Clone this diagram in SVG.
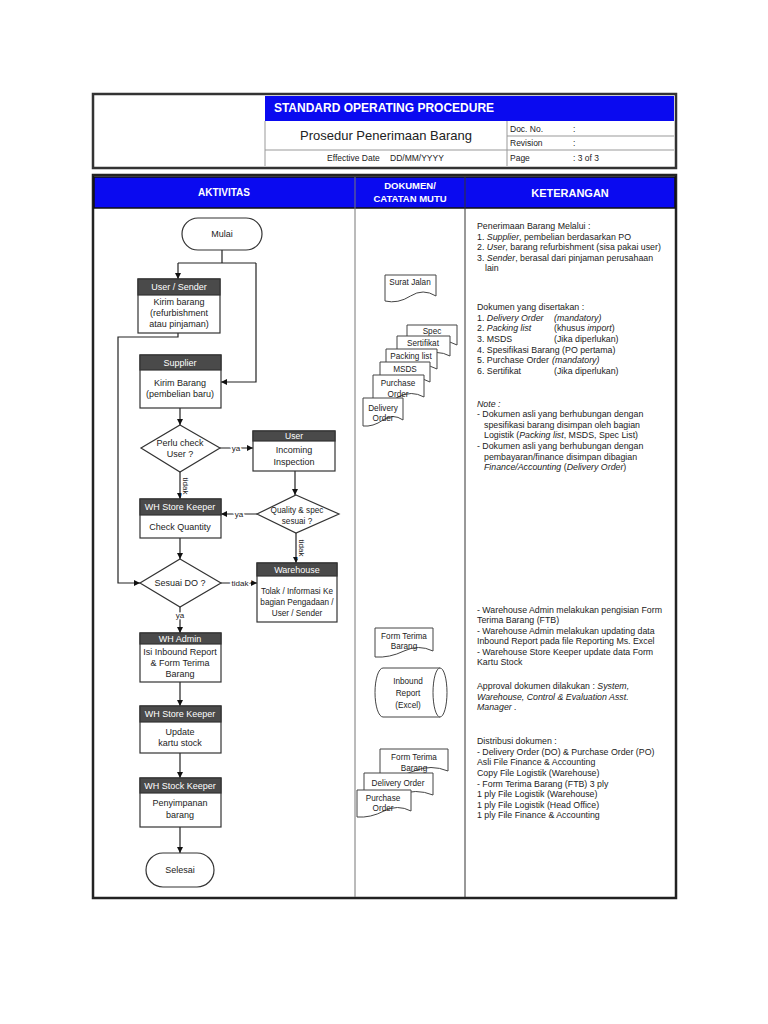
<svg xmlns="http://www.w3.org/2000/svg" width="768" height="1024" viewBox="0 0 768 1024">
<style>
text{font-family:"Liberation Sans",Arial,sans-serif;fill:#222}
.t{font-size:9px;text-anchor:middle}
.s{font-size:8.2px;text-anchor:middle}
.h{font-size:9px;text-anchor:middle;fill:#fff}
.r{font-size:8.8px}
.i{font-style:italic}
.lbl{font-size:8px;text-anchor:middle;stroke:#fff;stroke-width:3px;paint-order:stroke;fill:#222}
.box{fill:#fff;stroke:#333;stroke-width:1.2}
.hd{fill:#4a4a4a;stroke:#333;stroke-width:1.2}
.doc{fill:#fff;stroke:#444;stroke-width:1}
.ln{fill:none;stroke:#222;stroke-width:1.2}
</style>
<defs>
<marker id="ar" viewBox="0 0 10 10" refX="10" refY="5" markerWidth="6" markerHeight="6" orient="auto" markerUnits="userSpaceOnUse">
<path d="M0,0 L10,5 L0,10 Z" fill="#111"/>
</marker>
</defs>
<rect width="768" height="1024" fill="#fff"/>

<!-- header block -->
<g id="header">
<rect x="93" y="94" width="583" height="74" fill="#fff" stroke="#333" stroke-width="2.5"/>
<rect x="265" y="96" width="242" height="25" fill="#0a0af0"/>
<rect x="507" y="96" width="167" height="25" fill="#0a0af0"/>
<line x1="265" y1="121" x2="265" y2="166" stroke="#999" stroke-width="1"/>
<line x1="507" y1="121" x2="507" y2="166" stroke="#999" stroke-width="1"/>
<line x1="507" y1="136" x2="674" y2="136" stroke="#999" stroke-width="1"/>
<line x1="265" y1="150" x2="674" y2="150" stroke="#999" stroke-width="1"/>
<text x="384" y="112" font-size="12" font-weight="bold" text-anchor="middle" style="fill:#fff">STANDARD OPERATING PROCEDURE</text>
<text x="386" y="140" font-size="13" text-anchor="middle">Prosedur Penerimaan Barang</text>
<text x="327" y="161" font-size="8.5">Effective Date</text>
<text x="390" y="161" font-size="8.5">DD/MM/YYYY</text>
<text x="510" y="132" font-size="8.5">Doc. No.</text>
<text x="573" y="132" font-size="8.5">:</text>
<text x="510" y="146" font-size="8.5">Revision</text>
<text x="573" y="146" font-size="8.5">:</text>
<text x="510" y="161" font-size="8.5">Page</text>
<text x="573" y="161" font-size="8.5">: 3 of 3</text>
</g>

<!-- main frame -->
<g id="frame">
<rect x="93" y="175" width="583" height="723" fill="#fff" stroke="#222" stroke-width="2.5"/>
<rect x="94" y="177" width="581" height="31" fill="#0a0af0" stroke="#111" stroke-width="1.5"/>
<line x1="355" y1="177" x2="355" y2="897" stroke="#777" stroke-width="1"/>
<line x1="465" y1="177" x2="465" y2="897" stroke="#333" stroke-width="1"/>
<text x="224" y="196" font-size="10" font-weight="bold" text-anchor="middle" style="fill:#fff">AKTIVITAS</text>
<text x="410" y="189" font-size="9.5" font-weight="bold" text-anchor="middle" style="fill:#fff">DOKUMEN/</text>
<text x="410" y="202" font-size="9.5" font-weight="bold" text-anchor="middle" style="fill:#fff">CATATAN MUTU</text>
<text x="570" y="197" font-size="11" font-weight="bold" text-anchor="middle" style="fill:#fff">KETERANGAN</text>
</g>

<!-- connectors -->
<g id="connectors">
<path class="ln" d="M222,250 V263"/>
<path class="ln" d="M178,263 H256"/>
<path class="ln" d="M178,263 V279" marker-end="url(#ar)"/>
<path class="ln" d="M256,263 V382 H221" marker-end="url(#ar)"/>
<path class="ln" d="M178,333 V337 H118 V583 H140" marker-end="url(#ar)"/>
<path class="ln" d="M180,408 V425" marker-end="url(#ar)"/>
<path class="ln" d="M220,448 H253" marker-end="url(#ar)"/>
<path class="ln" d="M180,472 V499" marker-end="url(#ar)"/>
<path class="ln" d="M295,471 V495" marker-end="url(#ar)"/>
<path class="ln" d="M257,514 H221" marker-end="url(#ar)"/>
<path class="ln" d="M296,533 V563" marker-end="url(#ar)"/>
<path class="ln" d="M180,538 V559" marker-end="url(#ar)"/>
<path class="ln" d="M221,583 H257" marker-end="url(#ar)"/>
<path class="ln" d="M180,607 V633" marker-end="url(#ar)"/>
<path class="ln" d="M180,682 V706" marker-end="url(#ar)"/>
<path class="ln" d="M180,753 V778" marker-end="url(#ar)"/>
<path class="ln" d="M180,827 V853" marker-end="url(#ar)"/>
<text class="lbl" x="236" y="451">ya</text>
<text class="lbl" x="239" y="517">ya</text>
<text class="lbl" x="240" y="586">tidak</text>
<text class="lbl" x="180" y="618">ya</text>
<text class="lbl" transform="translate(183,486) rotate(90)">tidak</text>
<text class="lbl" transform="translate(299,548) rotate(90)">tidak</text>
</g>

<!-- flowchart nodes -->
<g id="mulai">
<rect class="box" x="182" y="218" width="80" height="32" rx="16"/>
<text class="t" x="222" y="237">Mulai</text>
</g>
<g id="user-sender">
<rect class="box" x="138" y="279" width="82" height="54"/>
<rect class="hd" x="138" y="279" width="82" height="16"/>
<text class="h" x="179" y="290">User / Sender</text>
<text class="t" x="179" y="305">Kirim barang</text>
<text class="t" x="179" y="316">(refurbishment</text>
<text class="t" x="179" y="327">atau pinjaman)</text>
</g>
<g id="supplier">
<rect class="box" x="140" y="355" width="81" height="53"/>
<rect class="hd" x="140" y="355" width="81" height="15"/>
<text class="h" x="180" y="366">Supplier</text>
<text class="t" x="180" y="386">Kirim Barang</text>
<text class="t" x="180" y="397">(pembelian baru)</text>
</g>
<g id="perlu-check">
<polygon class="box" points="180,425 220,448 180,472 141,448"/>
<text class="t" x="180" y="446">Perlu check</text>
<text class="t" x="180" y="457">User ?</text>
</g>
<g id="user">
<rect class="box" x="253" y="431" width="82" height="40"/>
<rect class="hd" x="253" y="431" width="82" height="10"/>
<text class="h" x="294" y="439" style="font-size:8.5px">User</text>
<text class="t" x="294" y="453">Incoming</text>
<text class="t" x="294" y="465">Inspection</text>
</g>
<g id="quality">
<polygon class="box" points="296,495 339,514 296,533 257,514"/>
<text class="s" x="297" y="513">Quality &amp; spec</text>
<text class="s" x="297" y="524">sesuai ?</text>
</g>
<g id="wh-store-keeper-1">
<rect class="box" x="140" y="499" width="81" height="39"/>
<rect class="hd" x="140" y="499" width="81" height="16"/>
<text class="h" x="180" y="510">WH Store Keeper</text>
<text class="t" x="180" y="530">Check Quantity</text>
</g>
<g id="sesuai-do">
<polygon class="box" points="180,559 221,583 180,607 140,583"/>
<text class="t" x="180" y="586">Sesuai DO ?</text>
</g>
<g id="warehouse">
<rect class="box" x="257" y="563" width="80" height="59"/>
<rect class="hd" x="257" y="563" width="80" height="13"/>
<text class="h" x="297" y="573">Warehouse</text>
<text class="s" x="297" y="594">Tolak / Informasi Ke</text>
<text class="s" x="297" y="605">bagian Pengadaan /</text>
<text class="s" x="297" y="616">User / Sender</text>
</g>
<g id="wh-admin">
<rect class="box" x="140" y="633" width="81" height="49"/>
<rect class="hd" x="140" y="633" width="81" height="11"/>
<text class="h" x="180" y="642">WH Admin</text>
<text class="t" x="180" y="655">Isi Inbound Report</text>
<text class="t" x="180" y="666">&amp; Form Terima</text>
<text class="t" x="180" y="677">Barang</text>
</g>
<g id="wh-store-keeper-2">
<rect class="box" x="140" y="706" width="81" height="47"/>
<rect class="hd" x="140" y="706" width="81" height="16"/>
<text class="h" x="180" y="717">WH Store Keeper</text>
<text class="t" x="180" y="735">Update</text>
<text class="t" x="180" y="746">kartu stock</text>
</g>
<g id="wh-stock-keeper">
<rect class="box" x="140" y="778" width="81" height="49"/>
<rect class="hd" x="140" y="778" width="81" height="15"/>
<text class="h" x="180" y="789">WH Stock Keeper</text>
<text class="t" x="180" y="806">Penyimpanan</text>
<text class="t" x="180" y="818">barang</text>
</g>
<g id="selesai">
<rect class="box" x="146" y="853" width="68" height="34" rx="17"/>
<text class="t" x="180" y="873">Selesai</text>
</g>

<!-- documents column -->
<g id="surat-jalan">
<path class="doc" d="M385,275 H436 V296 Q423,288 410.5,296 T385,301 Z"/>
<text class="s" x="410" y="285">Surat Jalan</text>
</g>
<g id="doc-stack-1">
<path class="doc" d="M407,325 H457 V345 Q444.5,338 432,345 T407,351 Z"/>
<text class="s" x="432" y="334">Spec</text>
<path class="doc" d="M397,336 H450 V356 Q436.75,349 423.5,356 T397,362 Z"/>
<text class="s" x="423" y="346">Sertifikat</text>
<path class="doc" d="M386,349 H437 V369 Q424.25,362 411.5,369 T386,375 Z"/>
<text class="s" x="411" y="359">Packing list</text>
<path class="doc" d="M380,362 H430 V382 Q417.5,375 405,382 T380,388 Z"/>
<text class="s" x="405" y="372">MSDS</text>
<path class="doc" d="M373,375 H424 V397 Q411.25,390 398.5,397 T373,403 Z"/>
<text class="s" x="398" y="386">Purchase</text>
<text class="s" x="398" y="397">Order</text>
<path class="doc" d="M363,398 H403 V420 Q393,413 383,420 T363,426 Z"/>
<text class="s" x="383" y="411">Delivery</text>
<text class="s" x="383" y="421">Order</text>
</g>
<g id="form-terima-1">
<path class="doc" d="M375,628 H433 V651 Q418.5,644 404,651 T375,657 Z"/>
<text class="s" x="404" y="639">Form Terima</text>
<text class="s" x="404" y="649">Barang</text>
</g>
<g id="inbound-report">
<path class="doc" d="M383,668 H440 A7,24.5 0 0 1 440,717 H383 A8,24.5 0 0 1 383,668 Z"/>
<path class="doc" d="M440,668 A7,24.5 0 0 0 440,717" fill="none"/>
<text class="s" x="408" y="684">Inbound</text>
<text class="s" x="408" y="696">Report</text>
<text class="s" x="408" y="708">(Excel)</text>
</g>
<g id="doc-stack-2">
<path class="doc" d="M380,749 H448 V771 Q431,764 414,771 T380,777 Z"/>
<text class="s" x="414" y="760">Form Terima</text>
<text class="s" x="414" y="771">Barang</text>
<path class="doc" d="M364,773 H433 V795 Q415.75,788 398.5,795 T364,801 Z"/>
<text class="s" x="398" y="786">Delivery Order</text>
<path class="doc" d="M357,790 H411 V811 Q397.5,804 384,811 T357,817 Z"/>
<text class="s" x="383" y="801">Purchase</text>
<text class="s" x="383" y="811">Order</text>
</g>

<!-- keterangan -->
<g id="keterangan-1">
<text class="r" x="477" y="229">Penerimaan Barang Melalui :</text>
<text class="r" x="477" y="240">1. <tspan class="i">Supplier</tspan>, pembelian berdasarkan PO</text>
<text class="r" x="477" y="250">2. <tspan class="i">User</tspan>, barang refurbishment (sisa pakai user)</text>
<text class="r" x="477" y="261">3. <tspan class="i">Sender</tspan>, berasal dari pinjaman perusahaan</text>
<text class="r" x="485" y="271">lain</text>
</g>
<g id="keterangan-2">
<text class="r" x="477" y="310">Dokumen yang disertakan :</text>
<text class="r" x="477" y="321">1. <tspan class="i">Delivery Order</tspan></text>
<text class="r i" x="554" y="321">(mandatory)</text>
<text class="r" x="477" y="331">2. <tspan class="i">Packing list</tspan></text>
<text class="r" x="554" y="331">(khusus <tspan class="i">import</tspan>)</text>
<text class="r" x="477" y="342">3. MSDS</text>
<text class="r" x="554" y="342">(Jika diperlukan)</text>
<text class="r" x="477" y="353">4. Spesifikasi Barang (PO pertama)</text>
<text class="r" x="477" y="363">5. Purchase Order</text>
<text class="r i" x="552" y="363">(mandatory)</text>
<text class="r" x="477" y="374">6. Sertifikat</text>
<text class="r" x="554" y="374">(Jika diperlukan)</text>
</g>
<g id="keterangan-3">
<text class="r i" x="477" y="407">Note :</text>
<text class="r" x="477" y="417">- Dokumen asli yang berhubungan dengan</text>
<text class="r" x="484" y="428">spesifikasi barang disimpan oleh bagian</text>
<text class="r" x="484" y="438">Logistik (<tspan class="i">Packing list</tspan>, MSDS, Spec List)</text>
<text class="r" x="477" y="449">- Dokumen asli yang berhubungan dengan</text>
<text class="r" x="484" y="460">pembayaran/finance disimpan dibagian</text>
<text class="r" x="484" y="470"><tspan class="i">Finance/Accounting</tspan> (<tspan class="i">Delivery Order</tspan>)</text>
</g>
<g id="keterangan-4">
<text class="r" x="477" y="613">- Warehouse Admin melakukan pengisian Form</text>
<text class="r" x="477" y="623">Terima Barang (FTB)</text>
<text class="r" x="477" y="634">- Warehouse Admin melakukan updating data</text>
<text class="r" x="477" y="644">Inbound Report pada file Reporting Ms. Excel</text>
<text class="r" x="477" y="655">- Warehouse Store Keeper update data Form</text>
<text class="r" x="477" y="665">Kartu Stock</text>
<text class="r" x="477" y="689">Approval dokumen dilakukan : <tspan class="i">System,</tspan></text>
<text class="r i" x="477" y="700">Warehouse, Control &amp; Evaluation Asst.</text>
<text class="r i" x="477" y="710">Manager .</text>
</g>
<g id="keterangan-5">
<text class="r" x="477" y="744">Distribusi dokumen :</text>
<text class="r" x="477" y="755">- Delivery Order (DO) &amp; Purchase Order (PO)</text>
<text class="r" x="477" y="765">Asli File Finance &amp; Accounting</text>
<text class="r" x="477" y="776">Copy File Logistik (Warehouse)</text>
<text class="r" x="477" y="787">- Form Terima Barang (FTB) 3 ply</text>
<text class="r" x="477" y="797">1 ply File Logistik (Warehouse)</text>
<text class="r" x="477" y="808">1 ply File Logistik (Head Office)</text>
<text class="r" x="477" y="818">1 ply File Finance &amp; Accounting</text>
</g>
</svg>
